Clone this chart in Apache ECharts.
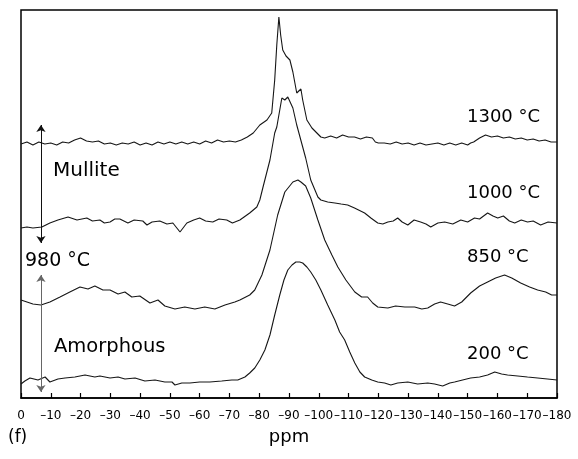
<!DOCTYPE html>
<html>
<head>
<meta charset="utf-8">
<script src="https://cdn.jsdelivr.net/npm/echarts@6/dist/echarts.min.js"></script>
<style>html,body{margin:0;padding:0;background:#fff}#c{width:578px;height:459px}</style>
</head>
<body>
<div id="c"></div>
<script>
// x axis: chemical shift (ppm); y: stacked intensity (arbitrary units, traces offset)
var ppmTicks = [0,-10,-20,-30,-40,-50,-60,-70,-80,-90,-100,-110,-120,-130,-140,-150,-160,-170,-180];

var ppm1300 = [0,-2,-4,-6,-8,-10,-12,-14,-16,-18,-20,-22,-24,-26,-28,-30,-32,-34,-36,-38,-40,-42,-44,-46,-48,-50,-52,-54,-56,-58,-60,-62,-64,-66,-68,-70,-72,-74,-76,-78,-80.2,-82.6,-84.2,-85.2,-85.9,-86.6,-87.2,-87.9,-89,-90.3,-91.3,-92.6,-94,-94.6,-96,-97.7,-100.7,-102,-104,-106,-108,-110,-112,-114,-116,-118,-119,-120,-122,-124,-126,-128,-130,-132,-134,-136,-138,-140,-142,-144,-146,-148,-150,-151,-152,-154,-156,-158,-160,-162,-164,-166,-168,-170,-172,-174,-176,-178,-180];
var int1300 = [254,256,253,256,254,255,253,256,255,258,260,257,256,257,254,255,253,255,254,256,253,255,253,256,254,256,254,256,254,256,254,257,255,258,256,257,256,258,261,265,273,278,285,318,353,381,363,348,342,338,326,305,309,298,278,270,261,260,262,260,263,261,261,259,261,260,256,255,255,254,256,254,255,253,255,253,254,255,253,255,253,255,253,255,256,260,263,261,262,260,261,259,260,258,259,257,258,256,256];

var ppm1000 = [0,-2,-4,-7,-9.7,-12.4,-15.8,-18.8,-22.1,-24,-26.5,-28,-29.9,-31.5,-33.2,-35.9,-38,-40.9,-42.3,-44,-46.6,-49,-51,-53.4,-55.7,-58,-60,-62,-64.4,-66.5,-69.1,-71,-73.5,-76.8,-79.2,-80.2,-81.2,-83.6,-85.2,-85.9,-87.6,-88.6,-89.6,-91.3,-92.6,-94.6,-95.6,-97.3,-99.7,-100.7,-103,-105.4,-107.5,-109.7,-112,-115.4,-117.5,-119.8,-121.5,-123.2,-125,-126.5,-128,-129.9,-132,-134.2,-136,-137.6,-140,-142.3,-145,-147.7,-150,-152.3,-154,-156.7,-158.5,-160.1,-162,-164,-165.8,-168,-170.1,-172,-174.5,-177,-180];
var int1000 = [170,171,170,171,175,178,181,178,180,177,178,175,176,179,179,175,178,177,173,176,177,174,175,166,175,178,180,177,176,179,178,175,178,185,191,198,210,238,265,271,300,298,301,290,273,251,240,218,201,198,196,195,194,193,190,185,180,175,174,176,177,180,176,173,178,176,174,171,175,176,174,178,176,180,179,185,182,180,182,177,175,178,176,177,173,176,175];

var ppm850 = [0,-4,-6.7,-9.7,-13.1,-16.4,-19.8,-22.5,-24.8,-27.5,-29.9,-32.6,-34.9,-37.2,-39.9,-43.3,-46,-48.3,-51.7,-55,-58.4,-61.7,-65.1,-68.5,-71.8,-73.5,-76.8,-78.5,-80.9,-83.6,-86.2,-88.6,-91.3,-93,-94,-95.6,-97.3,-99.7,-102,-104.4,-106.4,-109.1,-112.1,-114.4,-116.4,-118.1,-119.8,-123.2,-125.8,-128.9,-132.2,-134.6,-136.6,-138.9,-140.9,-143.3,-145.6,-148,-151,-154,-156.7,-159.4,-162.4,-164.8,-167.8,-170.8,-173.5,-176.2,-178.2,-180];
var int850 = [98,94,93,96,101,106,111,109,112,108,108,104,106,101,102,95,98,92,89,91,89,91,89,93,96,98,103,108,123,148,183,206,216,218,216,212,200,178,158,143,131,118,106,101,101,95,91,90,92,91,91,89,90,94,96,94,92,96,105,112,116,120,123,120,115,111,108,106,103,103];

var ppm200 = [0,-1.3,-3,-5.7,-8.1,-9.7,-12.4,-14.8,-18.1,-21.5,-24.8,-26.5,-29.9,-32.6,-34.9,-38.3,-41.6,-45,-48.3,-50.7,-51.7,-52.3,-54,-56.7,-60,-63.4,-67.4,-70.8,-72.8,-75.2,-76.8,-78.5,-80.2,-81.9,-83.6,-85.2,-86.9,-88.3,-89.6,-91,-92.3,-93.6,-94.6,-96,-97.3,-99,-100.7,-103,-105.4,-107,-108.7,-110.4,-112.1,-113.8,-115.4,-117.8,-119.8,-122.1,-124.2,-126.5,-129.9,-133.2,-136.6,-138.9,-141.6,-144,-145.6,-148.3,-151,-154,-156.7,-159.1,-161.4,-163.4,-166.8,-170.1,-173.5,-176.8,-180];
var int200 = [14,17,20,18,21,16,19,20,21,23,21,22,20,21,19,20,17,18,16,16,13,11,15,15,16,16,17,18,18,21,25,30,38,48,63,83,103,118,128,133,136,136,135,131,126,118,108,93,78,66,58,46,35,26,21,18,16,15,13,15,16,14,15,14,12,15,16,18,20,21,23,26,24,23,22,21,20,19,18];

var traceLabels = ['1300 °C','1000 °C','850 °C','200 °C'];
var sideLabels = ['Mullite','980 °C','Amorphous'];
// arrows: [ppm, yStart, yEnd]
var arrowPpm = -6.7;
var arrowMullite = [273, 155];
var arrowAmorph = [123, 6];

function pairs(xs, ys) {
  var n = Math.min(xs.length, ys.length), out = [];
  for (var i = 0; i < n; i++) out.push([xs[i], ys[i]]);
  return out;
}

var FONT = 'DejaVu Sans';
var lineStyle = {color: '#161616', width: 1.1};

function trace(name, xs, ys, extra) {
  var s = {
    name: name, type: 'line', data: pairs(xs, ys), symbol: 'none', showSymbol: false,
    lineStyle: lineStyle, animation: false, silent: true, z: 3
  };
  if (extra) for (var k in extra) s[k] = extra[k];
  return s;
}

var chart = echarts.init(document.getElementById('c'), null, {renderer: 'canvas'});
chart.setOption({
  backgroundColor: '#fff',
  animation: false,
  grid: {left: 21, right: 21, top: 10, bottom: 61, show: true, borderColor: '#000', borderWidth: 1.5, backgroundColor: 'transparent'},
  xAxis: {
    type: 'value', min: -180, max: 0, interval: 10, inverse: true,
    axisLine: {show: true, lineStyle: {color: '#000', width: 1.5}},
    axisTick: {show: true, inside: true, length: 5, lineStyle: {color: '#000', width: 1.2}},
    splitLine: {show: false},
    axisLabel: {
      color: '#000', fontFamily: FONT, fontSize: 12, margin: 12,
      showMinLabel: true, showMaxLabel: true, hideOverlap: false,
      formatter: function (v) { return v === 0 ? '0' : '\u2013' + Math.abs(v); }
    },
    name: 'ppm', nameLocation: 'middle', nameGap: 30,
    nameTextStyle: {color: '#000', fontFamily: FONT, fontSize: 18}
  },
  yAxis: {type: 'value', min: 0, max: 388, show: false, splitLine: {show: false}},
  series: [
    trace('1300', ppm1300, int1300),
    trace('1000', ppm1000, int1000),
    trace('850', ppm850, int850),
    trace('200', ppm200, int200, {
      markLine: {
        silent: true, symbol: ['arrow', 'arrow'], symbolSize: 7, animation: false,
        label: {show: false},
        data: [
          [{coord: [arrowPpm, arrowMullite[0]], lineStyle: {color: '#111', width: 1, type: 'solid'}},
           {coord: [arrowPpm, arrowMullite[1]]}],
          [{coord: [arrowPpm, arrowAmorph[0]], lineStyle: {color: '#666', width: 1, type: 'solid'}},
           {coord: [arrowPpm, arrowAmorph[1]]}]
        ]
      }
    })
  ],
  graphic: [
    {type: 'text', x: 467, y: 117, style: {text: traceLabels[0], fontFamily: FONT, fontSize: 18, fill: '#000', align: 'left', verticalAlign: 'middle'}},
    {type: 'text', x: 467, y: 193, style: {text: traceLabels[1], fontFamily: FONT, fontSize: 18, fill: '#000', align: 'left', verticalAlign: 'middle'}},
    {type: 'text', x: 467, y: 257, style: {text: traceLabels[2], fontFamily: FONT, fontSize: 18, fill: '#000', align: 'left', verticalAlign: 'middle'}},
    {type: 'text', x: 467, y: 354, style: {text: traceLabels[3], fontFamily: FONT, fontSize: 18, fill: '#000', align: 'left', verticalAlign: 'middle'}},
    {type: 'text', x: 53, y: 171, style: {text: sideLabels[0], fontFamily: FONT, fontSize: 20, fill: '#000', align: 'left', verticalAlign: 'middle'}},
    {type: 'text', x: 25, y: 261, style: {text: sideLabels[1], fontFamily: FONT, fontSize: 19, fill: '#000', align: 'left', verticalAlign: 'middle'}},
    {type: 'text', x: 54, y: 347, style: {text: sideLabels[2], fontFamily: FONT, fontSize: 19.5, fill: '#000', align: 'left', verticalAlign: 'middle'}},
    {type: 'text', x: 8, y: 438, style: {text: '(f)', fontFamily: FONT, fontSize: 17, fill: '#000', align: 'left', verticalAlign: 'middle'}}
  ]
});
</script>
</body>
</html>
